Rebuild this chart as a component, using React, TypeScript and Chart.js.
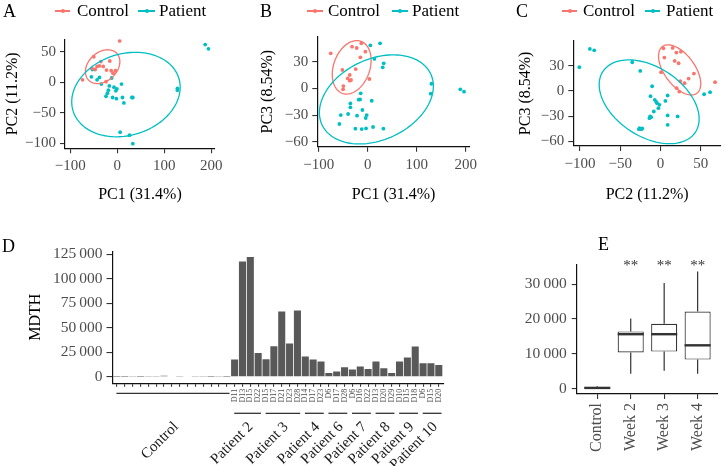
import React, { useEffect, useRef } from 'react';
import { Chart, registerables } from 'chart.js';

Chart.register(...registerables);

const FONT = '"Liberation Serif", "Times New Roman", serif';
Chart.defaults.font.family = FONT;

const RED = '#F8766D';
const TEAL = '#00BFC4';
const TICK_COLOR = '#4d4d4d';

// ---------- Panels A-C : PCA scores ----------
const legendGroups = ['Control', 'Patient'];

// A: PC1 (x) vs PC2 (y)
const aControlPC1 = [5, -50, -16, -35, -38, -30, -47, -23, -13, -4, -9, -74, -24, -54, -43];
const aControlPC2 = [68, 42, 35, 34, 27, 26, 21, 20, 19, 19, 15, 4, 1, 23, 26];
const aPatientPC1 = [187, 194, 128, 128, -53, -55, -38, -34, -12, 9, -17, -7, -19, -1, -3, -24, -10, -2, 11, 31, 33, 14, 6, 26, 33, -43, -21];
const aPatientPC2 = [62, 55, -10, -13, 21, 9, 8, -3, 7, -3, -6, -8, -13, -11, -14, -23, -25, -27, -25, -25, -25, -34, -82, -87, -101, 4, -18];

// B: PC1 (x) vs PC3 (y)
const bControlPC1 = [-75.5, -32, -22.4, -13, -4.8, -15, -51.7, -24.5, -36.7, -40.8, -34, -36.7, -49.7, -50.3, 3.4];
const bControlPC3 = [39.3, 46.8, 45.3, 50.6, 41.2, 34.8, 20.6, 21.7, 15, 11.2, 9.4, 8.6, 2.6, -1.1, 10.5];
const bPatientPC1 = [5.4, 25.2, 13.6, 32.7, 30.6, 130, 128.6, 189, 196.6, -14.3, -15.6, -18.4, 8.2, -35.4, -35.4, -10.9, -55, -40, -21.8, -2, -4, -57.8, -25.2, -12.2, -3.4, 10.9, 32];
const bPatientPC3 = [48.3, 50.6, 33, 28.1, 23.6, 5.2, -6, -1.1, -3.7, -5.6, -12.4, -12.7, -13.9, -16.9, -21.3, -24.3, -30, -28.8, -30.7, -30, -33.3, -40, -45.3, -45.7, -45, -43.4, -45.3];

// C: PC2 (x) vs PC3 (y)
const cControlPC2 = [3.7, 15.2, 19.8, 25.5, 4.9, 17.7, 41.6, 35, 24.7, 30, 20.2, 23.5, 67.9, 0.8, 22.6];
const cControlPC3 = [50.6, 51, 45.5, 46.6, 39.5, 35.6, 20.6, 14.6, 11.5, 9.1, 3.2, -0.8, 10.3, 22.1, 32.8];
const cPatientPC2 = [-100.8, -87.7, -82.3, -35, -25.1, -10.3, -12.3, 9, 6.2, -5.3, -4.1, -1.2, -2.5, -8.2, -12.8, -13.6, 9, 21.4, 9, -25.9, -23.9, -26.7, 54.3, 61.7, -22.6, -7, -11.5];
const cPatientPC3 = [28.1, 49.8, 48.2, 34, 23.7, 5.5, -6.3, -5.5, -11.9, -13, -14.6, -16.6, -20.6, -24.5, -30.4, -32.4, -29.2, -30.4, -40.3, -44.3, -45.5, -45.5, -4, -1.6, -44.7, -10.7, -31.2];

// Confidence ellipses: [centerX, centerY, semiAxis1X, semiAxis1Y, semiAxis2X, semiAxis2Y] (data units)
const aEllipseControl = [-31.2, 25.7, 30.1, 21.9, 20.9, -17.1];
const aEllipsePatient = [18.4, -20.2, 112.4, 27.3, 26.2, -63.9];
const bEllipseControl = [-32.7, 23.6, 19, 29.2, 34.8, -6.9];
const bEllipsePatient = [17.7, -12.4, 111, 28.5, 34.8, -41.1];
const cEllipseControl = [23.9, 24.9, 21.4, -27.7, 15.2, 10.8];
const cEllipsePatient = [-14, -13, 57.6, -35.9, -23.3, -34.5];

const pc1Ticks = [-100, 0, 100, 200];
const pc2TicksA = [-100, -50, 0, 50];
const pc2TicksC = [-100, -50, 0, 50];
const pc3Ticks = [-60, -30, 0, 30];

// ---------- Panel D : MDTH per sample ----------
const controlMDTH = [200, 150, 300, 250, 400, 900, 1100, 600, 400, 700, 300, 500, 200, 350, 250];
const patientNames = ['Patient 2', 'Patient 3', 'Patient 4', 'Patient 6', 'Patient 7', 'Patient 8', 'Patient 9', 'Patient 10'];
const patientDays = [
  ['D11', 'D13', 'D15', 'D22'],
  ['D15', 'D17', 'D21', 'D23', 'D28'],
  ['D14', 'D17', 'D23'],
  ['D6', 'D17', 'D28'],
  ['D6', 'D16', 'D22'],
  ['D13', 'D20', 'D29'],
  ['D10', 'D15', 'D18'],
  ['D6', 'D15', 'D20'],
];
const patientMDTH = [
  [17700, 117500, 122200, 24400],
  [18000, 31200, 66500, 34000, 67600],
  [20700, 17700, 15600],
  [4100, 5400, 9800],
  [7500, 10500, 8100],
  [15600, 8800, 4100],
  [15600, 19700, 30900],
  [13900, 13900, 12200],
];
const mdthTicks = [0, 25000, 50000, 75000, 100000, 125000];

// ---------- Panel E : box plots ----------
const eCategories = ['Control', 'Week 2', 'Week 3', 'Week 4'];
const eLow = [0, 4200, 5100, 4200];
const eQ1 = [0, 10350, 10600, 8300];
const eMedian = [150, 15600, 15600, 12400];
const eQ3 = [350, 16400, 18600, 22100];
const eHigh = [600, 20100, 30300, 33600];
const eStars = ['', '**', '**', '**'];
const eTicks = [0, 10000, 20000, 30000];

// ---------- helpers ----------
const fmtSigned = (v: number) => (v < 0 ? '\u2212' + Math.abs(v) : String(v));
const fmtThousands = (v: number) => (v === 0 ? '0' : String(v).replace(/\B(?=(\d{3})+(?!\d))/g, '\u2009'));
const toXY = (xs: number[], ys: number[]) => xs.map((x, i) => ({ x, y: ys[i] }));

function axisCfg(o: any) {
  return {
    type: 'linear',
    min: o.min,
    max: o.max,
    bounds: 'data',
    offset: false,
    afterBuildTicks: (s: any) => {
      s.ticks = o.ticks.map((v: number) => ({ value: v }));
    },
    afterFit: (s: any) => {
      if (o.horizontal) s.height = o.size;
      else s.width = o.size;
    },
    grid: {
      display: true,
      drawOnChartArea: false,
      drawTicks: true,
      tickLength: o.tickLength ?? 5,
      color: '#333',
      lineWidth: 1.1,
      offset: false,
    },
    border: { display: true, color: '#111', width: 1.2 },
    ticks: {
      autoSkip: false,
      minRotation: o.rotation ?? 0,
      maxRotation: o.rotation ?? 0,
      padding: o.padding ?? 4,
      color: TICK_COLOR,
      font: { family: FONT, size: o.fontSize ?? 15 },
      callback: (v: any) => o.fmt(v),
    },
    title: o.title
      ? { display: true, text: o.title, color: '#000', font: { family: FONT, size: 16 }, padding: o.titlePad ?? { top: 3, bottom: 1 } }
      : { display: false },
  };
}

function ellipsePlugin(ells: { p: number[]; color: string }[]) {
  return {
    id: 'ellipses',
    afterDatasetsDraw(chart: any) {
      const { ctx, scales, chartArea } = chart;
      const xs = scales.x;
      const ys = scales.y;
      ctx.save();
      ctx.beginPath();
      ctx.rect(chartArea.left, chartArea.top, chartArea.right - chartArea.left, chartArea.bottom - chartArea.top);
      ctx.clip();
      for (const e of ells) {
        const [cx, cy, ux, uy, vx, vy] = e.p;
        ctx.beginPath();
        for (let k = 0; k <= 120; k++) {
          const t = (k / 120) * Math.PI * 2;
          const dx = cx + ux * Math.cos(t) + vx * Math.sin(t);
          const dy = cy + uy * Math.cos(t) + vy * Math.sin(t);
          const X = xs.getPixelForValue(dx);
          const Y = ys.getPixelForValue(dy);
          if (k === 0) ctx.moveTo(X, Y);
          else ctx.lineTo(X, Y);
        }
        ctx.closePath();
        ctx.strokeStyle = e.color;
        ctx.lineWidth = 1.3;
        ctx.stroke();
      }
      ctx.restore();
    },
  };
}

function fontsReady(): Promise<unknown> {
  const d: any = document;
  if (!d.fonts || !d.fonts.load) return Promise.resolve();
  return Promise.all([
    d.fonts.load('15px "Liberation Serif"', 'Control 0123456789'),
    d.fonts.load('16px "Liberation Serif"', 'PC1 (31.4%)'),
  ]).catch(() => undefined);
}

function ChartCanvas(props: { left: number; top: number; width: number; height: number; make: () => any }) {
  const ref = useRef<HTMLCanvasElement>(null);
  useEffect(() => {
    let chart: any = null;
    let cancelled = false;
    fontsReady().then(() => {
      if (!cancelled && ref.current) chart = new Chart(ref.current, props.make());
    });
    return () => {
      cancelled = true;
      if (chart) chart.destroy();
    };
  }, []);
  return (
    <canvas
      ref={ref}
      width={props.width}
      height={props.height}
      style={{ position: 'absolute', left: props.left, top: props.top, width: props.width, height: props.height }}
    />
  );
}

function scatterConfig(o: any) {
  return {
    type: 'scatter',
    data: {
      datasets: [
        { label: legendGroups[0], data: toXY(o.cx, o.cy), backgroundColor: RED, borderWidth: 0, pointRadius: 1.9 },
        { label: legendGroups[1], data: toXY(o.px, o.py), backgroundColor: TEAL, borderWidth: 0, pointRadius: 1.9 },
      ],
    },
    options: {
      animation: false,
      responsive: false,
      devicePixelRatio: 1,
      layout: { padding: { top: o.padTop, right: o.padRight, left: 0, bottom: 0 } },
      plugins: { legend: { display: false }, tooltip: { enabled: false } },
      scales: {
        x: axisCfg({ ...o.x, horizontal: true, fmt: fmtSigned }),
        y: axisCfg({ ...o.y, horizontal: false, fmt: fmtSigned }),
      },
    },
    plugins: [
      ellipsePlugin([
        { p: o.ec, color: RED },
        { p: o.ep, color: TEAL },
      ]),
    ],
  };
}

// panel D data assembly
const dLabels: string[] = [...controlMDTH.map(() => ''), ...patientDays.flat()];
const dValues: number[] = [...controlMDTH, ...patientMDTH.flat()];
const dGroups = [{ name: 'Control', n: controlMDTH.length }, ...patientNames.map((name, i) => ({ name, n: patientDays[i].length }))];

function barConfigD() {
  return {
    type: 'bar',
    data: {
      datasets: [
        {
          data: dValues.map((v, i) => ({ x: i, y: v })),
          backgroundColor: '#595959',
          borderWidth: 0,
          barPercentage: 0.9,
          categoryPercentage: 1,
        },
      ],
    },
    options: {
      animation: false,
      responsive: false,
      devicePixelRatio: 1,
      layout: { padding: { top: 21.2, right: 8.5, left: 0, bottom: 0 } },
      plugins: { legend: { display: false }, tooltip: { enabled: false } },
      scales: {
        x: axisCfg({
          min: -0.55,
          max: dValues.length - 1 + 0.6,
          ticks: dValues.map((_, i) => i),
          fmt: (v: number) => dLabels[v] ?? '',
          horizontal: true,
          size: 82.7,
          tickLength: 3.5,
          padding: 2,
          fontSize: 8,
          rotation: 90,
        }),
        y: axisCfg({
          min: -6500,
          max: 128000,
          ticks: mdthTicks,
          fmt: fmtThousands,
          horizontal: false,
          size: 112.5,
          tickLength: 6,
          padding: 4,
          fontSize: 15.5,
          title: 'MDTH',
          titlePad: { top: 26, bottom: 0 },
        }),
      },
    },
    plugins: [
      {
        id: 'groups',
        afterDraw(chart: any) {
          const { ctx, scales, chartArea } = chart;
          const xs = scales.x;
          let start = 0;
          ctx.save();
          dGroups.forEach((g, gi) => {
            const end = start + g.n - 1;
            const x0 = xs.getPixelForValue(start - 0.05);
            const x1 = xs.getPixelForValue(end + 0.35);
            const ly = chartArea.bottom + (gi === 0 ? 10 : 30);
            ctx.strokeStyle = '#333';
            ctx.lineWidth = 1.3;
            ctx.beginPath();
            ctx.moveTo(x0, ly);
            ctx.lineTo(x1, ly);
            ctx.stroke();
            const cx = xs.getPixelForValue((start + end) / 2);
            ctx.save();
            ctx.translate(cx - 1, chartArea.bottom + 36);
            ctx.rotate(-Math.PI / 4);
            ctx.fillStyle = '#1a1a1a';
            ctx.font = `15px ${FONT}`;
            ctx.textAlign = 'right';
            ctx.textBaseline = 'top';
            ctx.fillText(g.name, 0, 0);
            ctx.restore();
            start = end + 1;
          });
          ctx.restore();
        },
      },
    ],
  };
}

const BOX_WIDTH = 0.78;

function boxConfigE() {
  return {
    type: 'bar',
    data: {
      datasets: [
        {
          data: eCategories.map((_, i) => ({ x: i, y: [eQ1[i], eQ3[i]] })),
          backgroundColor: '#ffffff',
          borderColor: '#333',
          borderWidth: 1.2,
          borderSkipped: false,
          barPercentage: BOX_WIDTH,
          categoryPercentage: 1,
        },
      ],
    },
    options: {
      animation: false,
      responsive: false,
      devicePixelRatio: 1,
      layout: { padding: { top: 35, right: 7.3, left: 0, bottom: 0 } },
      plugins: { legend: { display: false }, tooltip: { enabled: false } },
      scales: {
        x: axisCfg({
          min: -0.615,
          max: 3.6,
          ticks: [0, 1, 2, 3],
          fmt: (v: number) => eCategories[v] ?? '',
          horizontal: true,
          size: 72,
          tickLength: 5,
          padding: 4,
          fontSize: 16,
          rotation: 90,
        }),
        y: axisCfg({
          min: -1600,
          max: 35500,
          ticks: eTicks,
          fmt: fmtThousands,
          horizontal: false,
          size: 121.7,
          tickLength: 5,
          padding: 5,
          fontSize: 15.5,
        }),
      },
    },
    plugins: [
      {
        id: 'boxparts',
        afterDatasetsDraw(chart: any) {
          const { ctx, scales } = chart;
          const xs = scales.x;
          const ys = scales.y;
          const half = ((xs.getPixelForValue(1) - xs.getPixelForValue(0)) * BOX_WIDTH) / 2;
          ctx.save();
          ctx.strokeStyle = '#333';
          eCategories.forEach((_, i) => {
            const cx = xs.getPixelForValue(i);
            ctx.lineWidth = 1.2;
            ctx.beginPath();
            ctx.moveTo(cx, ys.getPixelForValue(eQ3[i]));
            ctx.lineTo(cx, ys.getPixelForValue(eHigh[i]));
            ctx.moveTo(cx, ys.getPixelForValue(eQ1[i]));
            ctx.lineTo(cx, ys.getPixelForValue(eLow[i]));
            ctx.stroke();
            ctx.lineWidth = 2.4;
            ctx.beginPath();
            ctx.moveTo(cx - half, ys.getPixelForValue(eMedian[i]));
            ctx.lineTo(cx + half, ys.getPixelForValue(eMedian[i]));
            ctx.stroke();
          });
          ctx.fillStyle = '#333';
          ctx.font = `15px ${FONT}`;
          ctx.textAlign = 'center';
          ctx.textBaseline = 'alphabetic';
          eStars.forEach((s, i) => {
            if (s) ctx.fillText(s, xs.getPixelForValue(i), ys.getPixelForValue(34100));
          });
          ctx.restore();
        },
      },
    ],
  };
}

// ---------- HTML overlays ----------
function Letter({ text, left, top }: { text: string; left: number; top: number }) {
  return (
    <div style={{ position: 'absolute', left, top, fontFamily: FONT, fontSize: 18, lineHeight: '20px', color: '#000' }}>{text}</div>
  );
}

function LegendItem({ color, symLeft, symRight, textLeft, label, cy }: any) {
  const w = symRight - symLeft;
  return (
    <>
      <div style={{ position: 'absolute', left: symLeft, top: cy - 0.65, width: w, height: 1.3, background: color }} />
      <div
        style={{
          position: 'absolute',
          left: symLeft + w / 2 - 2,
          top: cy - 2,
          width: 4,
          height: 4,
          borderRadius: 2,
          background: color,
        }}
      />
      <div style={{ position: 'absolute', left: textLeft, top: cy - 10.5, fontFamily: FONT, fontSize: 17, lineHeight: '20px', color: '#000', whiteSpace: 'nowrap' }}>
        {label}
      </div>
    </>
  );
}

export default function App() {
  useEffect(() => {
    document.body.style.margin = '0';
  }, []);
  return (
    <div style={{ position: 'fixed', left: 0, top: 0, width: 725, height: 466, background: '#fff', overflow: 'hidden' }}>
      <ChartCanvas
        left={0}
        top={0}
        width={235}
        height={205}
        make={() =>
          scatterConfig({
            cx: aControlPC1, cy: aControlPC2, px: aPatientPC1, py: aPatientPC2,
            ec: aEllipseControl, ep: aEllipsePatient,
            padTop: 39.3, padRight: 235 - 215,
            x: { min: -111.3, max: 207.9, ticks: pc1Ticks, size: 205 - 148.3, title: 'PC1 (31.4%)' },
            y: { min: -108.6, max: 70.7, ticks: pc2TicksA, size: 65, title: 'PC2 (11.2%)' },
          })
        }
      />
      <ChartCanvas
        left={255}
        top={0}
        width={240}
        height={205}
        make={() =>
          scatterConfig({
            cx: bControlPC1, cy: bControlPC3, px: bPatientPC1, py: bPatientPC3,
            ec: bEllipseControl, ep: bEllipsePatient,
            padTop: 36.7, padRight: 495 - 470,
            x: { min: -102.9, max: 208.8, ticks: pc1Ticks, size: 205 - 146.7, title: 'PC1 (31.4%)' },
            y: { min: -65.5, max: 58, ticks: pc3Ticks, size: 317.3 - 255, title: 'PC3 (8.54%)' },
          })
        }
      />
      <ChartCanvas
        left={513}
        top={0}
        width={212}
        height={205}
        make={() =>
          scatterConfig({
            cx: cControlPC2, cy: cControlPC3, px: cPatientPC2, py: cPatientPC3,
            ec: cEllipseControl, ep: cEllipsePatient,
            padTop: 40.7, padRight: 3,
            x: { min: -108.3, max: 75.3, ticks: pc2TicksC, size: 205 - 146, title: 'PC2 (11.2%)' },
            y: { min: -65.5, max: 59.6, ticks: pc3Ticks, size: 573.3 - 513, title: 'PC3 (8.54%)' },
          })
        }
      />
      <ChartCanvas left={0} top={230} width={452} height={236} make={barConfigD} />
      <ChartCanvas left={455} top={230} width={270} height={236} make={boxConfigE} />

      <Letter text="A" left={3} top={1} />
      <Letter text="B" left={260} top={1} />
      <Letter text="C" left={516} top={1} />
      <Letter text="D" left={2} top={236} />
      <Letter text="E" left={598} top={234} />

      <LegendItem color={RED} symLeft={55} symRight={70} textLeft={77} label={legendGroups[0]} cy={11} />
      <LegendItem color={TEAL} symLeft={138} symRight={155} textLeft={159} label={legendGroups[1]} cy={11} />
      <LegendItem color={RED} symLeft={307} symRight={323} textLeft={328} label={legendGroups[0]} cy={11} />
      <LegendItem color={TEAL} symLeft={392} symRight={408} textLeft={412} label={legendGroups[1]} cy={11} />
      <LegendItem color={RED} symLeft={562} symRight={577} textLeft={583} label={legendGroups[0]} cy={11} />
      <LegendItem color={TEAL} symLeft={645} symRight={660} textLeft={666} label={legendGroups[1]} cy={11} />
    </div>
  );
}
